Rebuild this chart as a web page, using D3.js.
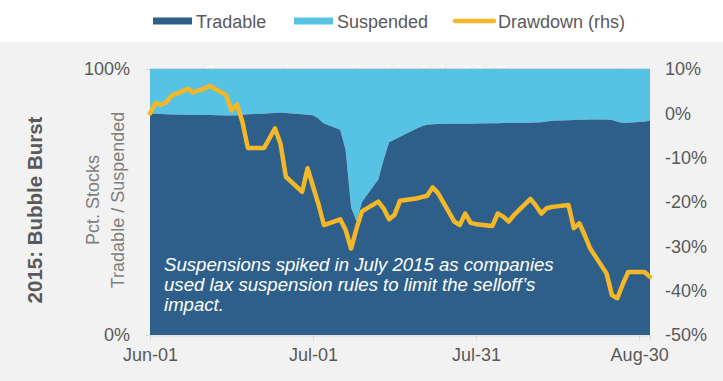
<!DOCTYPE html>
<html>
<head>
<meta charset="utf-8">
<script src="https://cdn.jsdelivr.net/npm/d3@7"></script>
<style>
  body { margin: 0; background: #fff; }
  svg { display: block; font-family: "Liberation Sans", Arial, sans-serif; }
</style>
</head>
<body>
<script>
// weekdays, Jun-01 .. Sep-01 2015
const dates = [
  "2015-06-01","2015-06-02","2015-06-03","2015-06-04","2015-06-05",
  "2015-06-08","2015-06-09","2015-06-10","2015-06-11","2015-06-12",
  "2015-06-15","2015-06-16","2015-06-17","2015-06-18","2015-06-19",
  "2015-06-22","2015-06-23","2015-06-24","2015-06-25","2015-06-26",
  "2015-06-29","2015-06-30","2015-07-01","2015-07-02","2015-07-03",
  "2015-07-06","2015-07-07","2015-07-08","2015-07-09","2015-07-10",
  "2015-07-13","2015-07-14","2015-07-15","2015-07-16","2015-07-17",
  "2015-07-20","2015-07-21","2015-07-22","2015-07-23","2015-07-24",
  "2015-07-27","2015-07-28","2015-07-29","2015-07-30","2015-07-31",
  "2015-08-03","2015-08-04","2015-08-05","2015-08-06","2015-08-07",
  "2015-08-10","2015-08-11","2015-08-12","2015-08-13","2015-08-14",
  "2015-08-17","2015-08-18","2015-08-19","2015-08-20","2015-08-21",
  "2015-08-24","2015-08-25","2015-08-26","2015-08-27","2015-08-28",
  "2015-08-31","2015-09-01"
];

// pct of stocks tradable (rest is suspended)
const tradable = [
  83.3, 83.2, 83.1, 83.0, 82.9,
  82.8, 82.8, 82.7, 82.7, 82.7,
  82.5, 82.5, 82.6, 82.8, 83.0,
  83.2, 83.4, 83.5, 83.6, 83.5,
  83.0, 82.8, 82.6, 81.3, 79.5,
  77.2, 69.5, 48.0, 42.8, 50.0,
  58.5, 66.0, 72.5, 73.5, 74.5,
  77.5, 78.5, 79.0, 79.2, 79.3,
  79.4, 79.4, 79.4, 79.4, 79.5,
  79.6, 79.6, 79.7, 79.7, 79.8,
  79.8, 79.9, 80.0, 80.3, 80.5,
  80.7, 80.8, 80.9, 80.9, 81.0,
  81.0, 80.8, 80.2, 79.7, 79.8,
  80.3, 80.5
];

// drawdown, %, right axis
const drawdown = [
  0.0, 2.3, 1.9, 2.5, 4.0,
  5.5, 4.7, 5.2, 5.6, 6.2,
  4.1, 0.7, 2.0, -1.9, -7.8,
  -7.8, -5.6, -3.4, -6.8, -14.3,
  -17.7, -12.4, -16.5, -20.5, -25.2,
  -23.9, -26.3, -30.5, -26.0, -22.1,
  -19.9, -21.5, -23.9, -22.9, -19.7,
  -19.2, -18.9, -18.6, -16.7, -18.0,
  -24.4, -25.2, -22.6, -24.7, -25.0,
  -25.4, -22.6, -23.3, -24.4, -22.9,
  -19.3, -20.8, -22.6, -21.4, -21.1,
  -20.7, -25.9, -24.8, -27.5, -30.5,
  -36.1, -41.0, -41.7, -38.5, -35.8,
  -35.8, -36.9
];

const xTicks = ["2015-06-01", "2015-07-01", "2015-07-31", "2015-08-30"];
const leftTicks = [0, 100];
const rightTicks = [10, 0, -10, -20, -30, -40, -50];
const noteLines = [
  "Suspensions spiked in July 2015 as companies",
  "used lax suspension rules to limit the selloff\u2019s",
  "impact."
];

const W = 723, H = 381;
const C_TRAD = "#2e5f8a", C_SUSP = "#56c3e4", C_DD = "#f4b727", C_TXT = "#595959";

const parse = d3.timeParse("%Y-%m-%d");
const rows = dates.map((d, i) => ({ date: parse(d), t: tradable[i], dd: drawdown[i] }));

const svg = d3.select("body").append("svg").attr("width", W).attr("height", H);

// backgrounds
svg.append("rect").attr("width", W).attr("height", 42).attr("fill", "#ffffff");
svg.append("rect").attr("y", 42).attr("width", W).attr("height", H - 42).attr("fill", "#f2f2f2");

const x = d3.scaleTime().domain([parse("2015-06-01"), parse("2015-09-01")]).range([150, 650]);
const yL = d3.scaleLinear().domain([0, 100]).range([335, 69]);
const yR = d3.scaleLinear().domain([-50, 10]).range([335, 69]);

// faint title hidden behind the plot
svg.append("text").attr("x", 203).attr("y", 80)
  .attr("font-size", 21).attr("fill", "#ffffff")
  .text(noteLines[0]);

// areas
svg.append("path").datum(rows)
  .attr("fill", C_SUSP)
  .attr("d", d3.area().x(d => x(d.date)).y0(d => yL(d.t)).y1(yL(100)));
svg.append("path").datum(rows)
  .attr("fill", C_TRAD)
  .attr("d", d3.area().x(d => x(d.date)).y0(yL(0)).y1(d => yL(d.t)));

// top border
svg.append("line").attr("x1", 150).attr("x2", 650).attr("y1", 68.5).attr("y2", 68.5)
  .attr("stroke", "#d9d9d9").attr("stroke-width", 1);

// drawdown line
svg.append("path").datum(rows)
  .attr("fill", "none").attr("stroke", C_DD).attr("stroke-width", 4.5)
  .attr("stroke-linejoin", "round").attr("stroke-linecap", "round")
  .attr("d", d3.line().x(d => x(d.date)).y(d => yR(d.dd)));

// note
const note = svg.append("text").attr("x", 164).attr("y", 271)
  .attr("font-size", 18.6).attr("font-style", "italic").attr("fill", "#ffffff");
noteLines.forEach((l, i) => note.append("tspan").attr("x", 164).attr("dy", i ? 20 : 0).text(l));

// x axis
const fmt = d3.timeFormat("%b-%d");
const gx = svg.append("g").attr("transform", "translate(0,335.5)")
  .call(d3.axisBottom(x).tickValues(xTicks.map(parse)).tickFormat(fmt).tickSize(5).tickPadding(8));
gx.select(".domain").attr("stroke", "#d9d9d9");
gx.selectAll(".tick line").attr("stroke", "#d9d9d9");
gx.selectAll("text").attr("font-size", 18).attr("fill", C_TXT).attr("font-family", null);

// left axis
const gl = svg.append("g").attr("transform", "translate(150,0)")
  .call(d3.axisLeft(yL).tickValues(leftTicks).tickFormat(d => d + "%").tickSize(4).tickPadding(16));
gl.select(".domain").remove();
gl.selectAll(".tick line").attr("stroke", "#d9d9d9");
gl.selectAll("text").attr("font-size", 18).attr("fill", C_TXT).attr("font-family", null);

// right axis
const gr = svg.append("g").attr("transform", "translate(650,0)")
  .call(d3.axisRight(yR).tickValues(rightTicks).tickFormat(d => d + "%").tickSize(0).tickPadding(15));
gr.select(".domain").remove();
gr.selectAll("text").attr("font-size", 18).attr("fill", C_TXT).attr("font-family", null);

// axis titles
svg.append("text").attr("transform", "translate(42,210) rotate(-90)")
  .attr("text-anchor", "middle").attr("font-size", 20.5).attr("font-weight", "bold")
  .attr("fill", C_TXT).text("2015: Bubble Burst");
svg.append("text").attr("transform", "translate(99,200) rotate(-90)")
  .attr("text-anchor", "middle").attr("font-size", 18).attr("fill", "#7f7f7f").text("Pct. Stocks");
svg.append("text").attr("transform", "translate(124,200) rotate(-90)")
  .attr("text-anchor", "middle").attr("font-size", 18).attr("fill", "#7f7f7f").text("Tradable / Suspended");

// legend
const lg = svg.append("g");
lg.append("rect").attr("x", 153).attr("y", 17.5).attr("width", 39).attr("height", 7).attr("fill", C_TRAD);
lg.append("text").attr("x", 196).attr("y", 27.5).attr("font-size", 18).attr("fill", C_TXT).text("Tradable");
lg.append("rect").attr("x", 294).attr("y", 17.5).attr("width", 39).attr("height", 7).attr("fill", C_SUSP);
lg.append("text").attr("x", 337).attr("y", 27.5).attr("font-size", 18).attr("fill", C_TXT).text("Suspended");
lg.append("line").attr("x1", 455).attr("x2", 494).attr("y1", 21).attr("y2", 21)
  .attr("stroke", C_DD).attr("stroke-width", 4.5).attr("stroke-linecap", "round");
lg.append("text").attr("x", 498).attr("y", 27.5).attr("font-size", 18).attr("fill", C_TXT).text("Drawdown (rhs)");
</script>
</body>
</html>
